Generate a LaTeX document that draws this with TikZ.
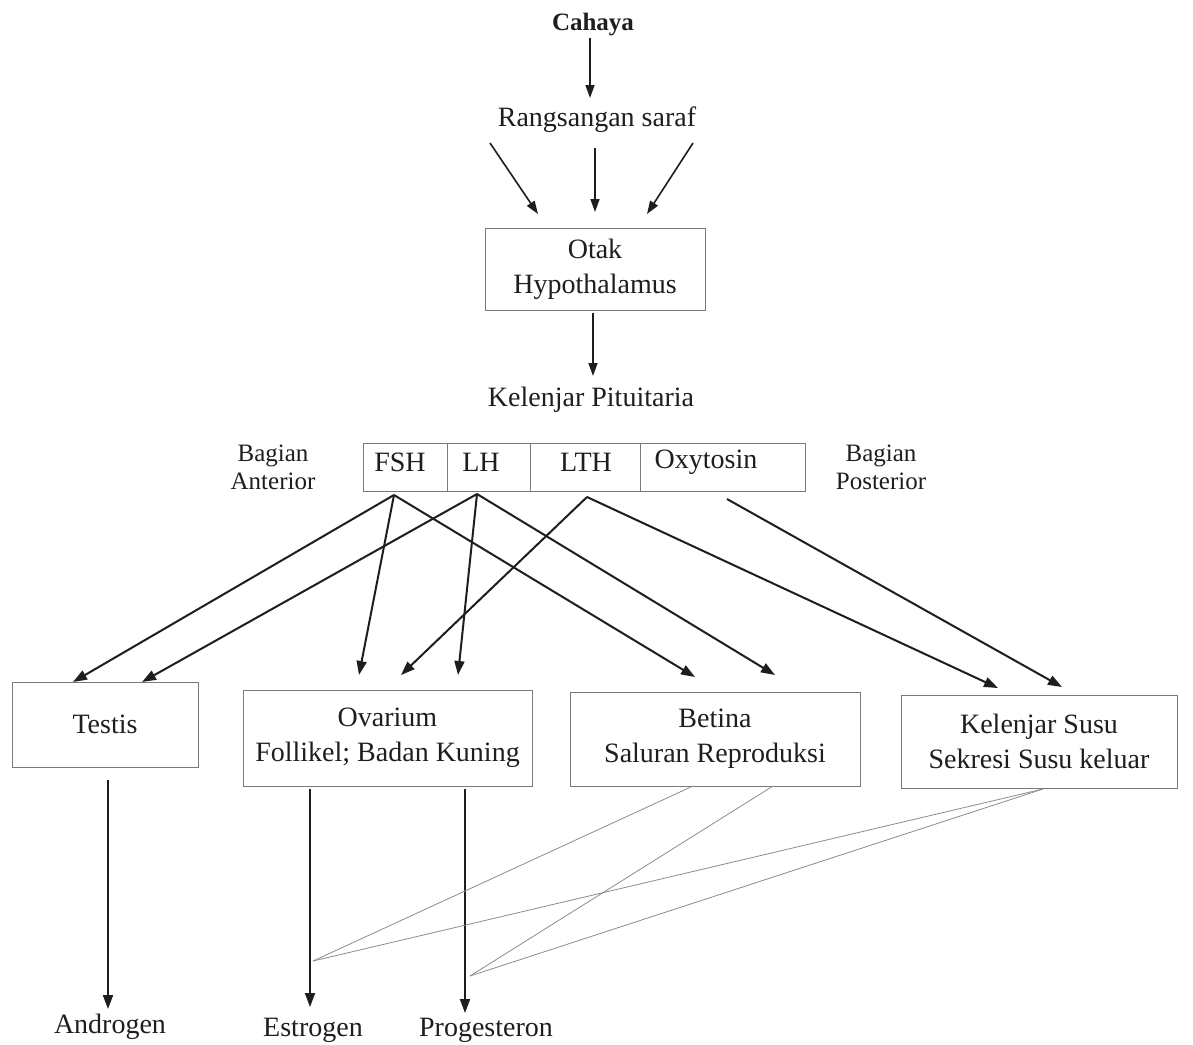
\documentclass[tikz,border=0pt]{standalone}
\usepackage{fontspec}
\setmainfont{Liberation Serif}
\usetikzlibrary{arrows.meta}
\definecolor{ink}{HTML}{1E1E1E}
\definecolor{frame}{HTML}{7A7A7A}
\definecolor{thin}{HTML}{8C8C8C}
\begin{document}
\begin{tikzpicture}[x=1pt,y=-1pt,
  lbl/.style={inner sep=0pt,text=ink,font=\fontsize{28}{35}\selectfont,align=center},
  small/.style={inner sep=0pt,text=ink,font=\fontsize{25}{28}\selectfont,align=center},
  boxn/.style={draw=frame,line width=0.9pt,inner sep=0pt,text=ink,font=\fontsize{28}{35}\selectfont,align=center},
  cell/.style={draw=frame,line width=0.9pt,inner sep=0pt,minimum height=48pt},
  arr/.style={draw=ink,line width=2pt,-{Triangle[length=14pt,width=10pt]}},
  arrs/.style={draw=ink,line width=1.6pt,-{Triangle[length=13pt,width=9pt]}},
  link/.style={draw=thin,line width=0.8pt}]
\useasboundingbox (0,0) rectangle (1193,1044);
\fill[white] (0,0) rectangle (1193,1044);

% top chain
\node[small,font=\fontsize{25}{28}\selectfont\bfseries] (cahaya) at (593,25) {Cahaya};
\node[lbl] (rang) at (597,120) {Rangsangan saraf};
\node[boxn,minimum width=220pt,minimum height=82pt] (hypo) at (595,269) {Otak\\Hypothalamus};
\node[lbl] (pit) at (591,400) {Kelenjar Pituitaria};

\coordinate (c1) at (590,38);
\coordinate (c2) at (590,98);
\draw[arrs] (c1) -- (c2);
\coordinate (r1) at (490,143);
\coordinate (r2) at (595,148);
\coordinate (r3) at (693,143);
\coordinate (h1) at (538,214);
\coordinate (h2) at (595,212);
\coordinate (h3) at (647,214);
\draw[arrs] (r1) -- (h1);
\draw[arrs] (r2) -- (h2);
\draw[arrs] (r3) -- (h3);
\coordinate (hb) at (593,313);
\coordinate (pt) at (593,376);
\draw[arrs] (hb) -- (pt);

% hormone row
\node[cell,minimum width=84pt] (fsh) at (405,467) {};
\node[cell,minimum width=83pt] (lh) at (488.5,467) {};
\node[cell,minimum width=110pt] (lth) at (585,467) {};
\node[cell,minimum width=165pt] (oxy) at (722.5,467) {};
\node[lbl] (tfsh) at (400,462) {FSH};
\node[lbl] (tlh) at (481,462) {LH};
\node[lbl] (tlth) at (586,462) {LTH};
\node[lbl] (toxy) at (706,462) {Oxytosin};
\node[small] (ant) at (273,467) {Bagian\\Anterior};
\node[small] (post) at (881,467) {Bagian\\Posterior};

% target boxes
\node[boxn,minimum width=186pt,minimum height=85pt] (testis) at (105,724.5) {Testis};
\node[boxn,minimum width=289pt,minimum height=96pt] (ovar) at (387.5,738) {Ovarium\\Follikel; Badan Kuning};
\node[boxn,minimum width=290pt,minimum height=94pt] (betina) at (715,739) {Betina\\Saluran Reproduksi};
\node[boxn,minimum width=276pt,minimum height=93pt] (susu) at (1039,741.5) {Kelenjar Susu\\Sekresi Susu keluar};

% sources under hormone cells
\coordinate (sF) at (394,495);
\coordinate (sL) at (477,494);
\coordinate (sT) at (587,497);
\coordinate (sO) at (727,499);
% targets
\coordinate (tT1) at (73,682);
\coordinate (tT2) at (142,682);
\coordinate (tO1) at (359,675);
\coordinate (tO2) at (401,675);
\coordinate (tO3) at (458,675);
\coordinate (tB1) at (695,677);
\coordinate (tB2) at (775,675);
\coordinate (tS1) at (998,688);
\coordinate (tS2) at (1062,687);

\draw[arr] (sF) -- (tT1);
\draw[arr] (sF) -- (tO1);
\draw[arr] (sF) -- (tB1);
\draw[arr] (sL) -- (tT2);
\draw[arr] (sL) -- (tO3);
\draw[arr] (sL) -- (tB2);
\draw[arr] (sT) -- (tO2);
\draw[arr] (sT) -- (tS1);
\draw[arr] (sO) -- (tS2);

% products
\node[lbl] (andr) at (110,1027) {Androgen};
\node[lbl] (estr) at (313,1030) {Estrogen};
\node[lbl] (prog) at (486,1030) {Progesteron};

\coordinate (aT) at (108,780);
\coordinate (aB) at (108,1009);
\coordinate (eT) at (310,789);
\coordinate (eB) at (310,1007);
\coordinate (pT) at (465,789);
\coordinate (pB) at (465,1013);
\draw[arr] (aT) -- (aB);
\draw[arr] (eT) -- (eB);
\draw[arr] (pT) -- (pB);

% thin links
\coordinate (bb1) at (693,786);
\coordinate (bb2) at (773,786);
\coordinate (sb) at (1043,789);
\coordinate (ej) at (313,961);
\coordinate (pj) at (470,976);
\draw[link] (bb1) -- (ej);
\draw[link] (sb) -- (ej);
\draw[link] (bb2) -- (pj);
\draw[link] (sb) -- (pj);
\end{tikzpicture}
\end{document}
